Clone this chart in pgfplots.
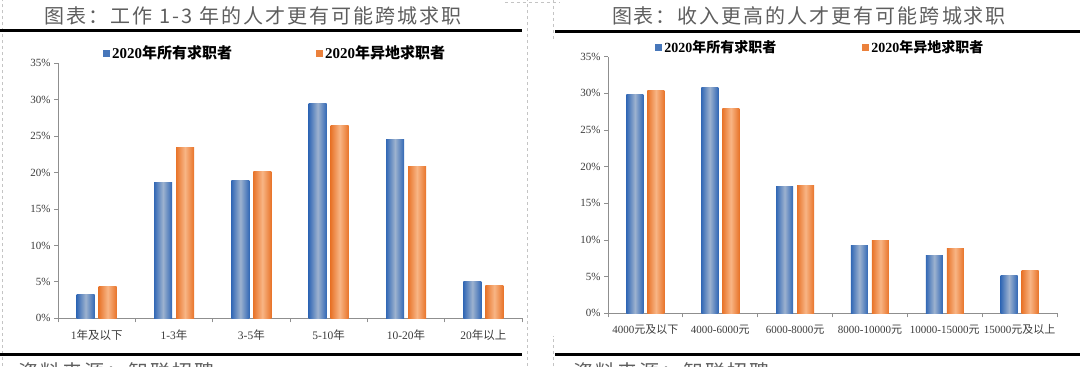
\documentclass[border=0pt]{standalone}
\usepackage{pgfplots}
\pgfplotsset{compat=1.18}
\usepackage{fontspec}
\setmainfont{Liberation Serif}
\newfontfamily\cjk{Noto Sans CJK SC}
\newfontfamily\cjkt[LetterSpace=10]{Noto Sans CJK SC}
\newcommand\C[1]{{\cjk #1}}
\definecolor{bdark}{HTML}{3268B5}
\definecolor{blight}{HTML}{9DB2CF}
\definecolor{odark}{HTML}{E8742A}
\definecolor{olight}{HTML}{F8B585}
\definecolor{axgray}{HTML}{8F8F8F}
\definecolor{txt}{HTML}{3A3A3A}
\definecolor{ttl}{HTML}{5E5E5E}
\definecolor{brd}{HTML}{C4C4C4}

\pgfplotsset{
 mybars/.style={
  scale only axis, ymin=0, ymax=35, xmin=-0.5, xmax=5.5,
  axis x line*=bottom, axis y line*=left,
  axis line style={draw=axgray, line width=0.9bp},
  tick style={draw=axgray, line width=0.8bp},
  xtick={0,...,5},
  major x tick style={draw=none},
  minor xtick={-0.5,0.5,...,5.5},
  minor tick length=4bp,
  tick align=outside,
  ytick={0,5,...,35}, major tick length=4bp,
  yticklabel={\pgfmathprintnumber{\tick}\%},
  /pgf/number format/assume math mode=true,
  tick label style={text=txt},
  y tick label style={font=\fontsize{11bp}{13bp}\selectfont},
  legend columns=2,
  legend style={draw=none, fill=none, anchor=west, inner sep=0pt, text=black},
  legend image code/.code={\draw[#1, draw=none] (0bp,-3.5bp) rectangle (7bp,3.5bp);},
  clip=false,
 },
 bluebar/.style={ybar, draw=none, left color=bdark, right color=bdark, middle color=blight},
 orangebar/.style={ybar, draw=none, left color=odark, right color=odark, middle color=olight},
}
% one bar pair per category, each bar its own path so that it gets its own shading
\newcommand\bars[3]{%
  \addplot[bl, forget plot] coordinates {(#1,#2)};
  \addplot[ol, forget plot] coordinates {(#1,#3)};}

\begin{document}
\begin{tikzpicture}[x=1bp,y=1bp]
\path[use as bounding box] (0,0) rectangle (1080,366);
\begin{scope}
\clip (0,0) rectangle (1080,366);
\draw[brd, dashed, line width=0.6bp] (2,0)--(2,366);
\draw[brd, dashed, line width=0.6bp] (527,0)--(527,366);
\draw[brd, dashed, line width=0.6bp] (553,366)--(553,325);
\draw[brd, dashed, line width=0.6bp] (553,0)--(553,30);
\draw[brd, dashed, line width=0.6bp] (505,364)--(560,364);
\draw[black, line width=3bp] (0,335)--(522,335);
\draw[black, line width=3bp] (555,334.5)--(1080,334.5);
\draw[black, line width=3bp] (0,12)--(522,12);
\draw[black, line width=3bp] (555,11.5)--(1080,11.5);
\node[text=ttl, font=\cjkt\fontsize{20bp}{22bp}\selectfont, inner sep=0] at (253,350) {图表：工作 1-3 年的人才更有可能跨城求职};
\node[text=ttl, font=\cjkt\fontsize{20bp}{22bp}\selectfont, inner sep=0] at (809,350) {图表：收入更高的人才更有可能跨城求职};
\node[anchor=north west, inner sep=0, text=ttl, font=\cjkt\fontsize{20bp}{22bp}\selectfont] at (18,4) {资料来源：智联招聘};
\node[anchor=north west, inner sep=0, text=ttl, font=\cjkt\fontsize{20bp}{22bp}\selectfont] at (573,4) {资料来源：智联招聘};
\end{scope}

\begin{axis}[mybars,
  at={(58bp,47.7bp)}, anchor=south west, width=464bp, height=255bp,
  bar width=18bp,
  bl/.style={bluebar, bar shift=-11bp},
  ol/.style={orangebar, bar shift=11bp},
  xticklabels={1\C{年及以下}, 1-3\C{年}, 3-5\C{年}, 5-10\C{年}, 10-20\C{年}, 20\C{年以上}},
  x tick label style={font=\fontsize{11.5bp}{13bp}\selectfont, yshift=-4bp},
  legend style={at={(0.097,1.040)}, font=\fontsize{15bp}{17bp}\selectfont\bfseries,
    /tikz/column 2/.style={column sep=82bp}},
]
\addlegendimage{fill=bdark!80!blight}
\addlegendimage{fill=odark!80!olight}
\bars{0}{3.2}{4.4}
\bars{1}{18.6}{23.5}
\bars{2}{18.9}{20.2}
\bars{3}{29.5}{26.5}
\bars{4}{24.5}{20.8}
\bars{5}{5.1}{4.5}
\legend{2020\C{年所有求职者}, 2020\C{年异地求职者}}
\end{axis}

\begin{axis}[mybars,
  at={(608bp,52.7bp)}, anchor=south west, width=449bp, height=256.6bp,
  bar width=17bp,
  bl/.style={bluebar, bar shift=-10.5bp},
  ol/.style={orangebar, bar shift=10.5bp},
  xticklabels={4000\C{元及以下}, 4000-6000\C{元}, 6000-8000\C{元}, 8000-10000\C{元}, 10000-15000\C{元}, 15000\C{元及以上}},
  x tick label style={font=\fontsize{11bp}{13bp}\selectfont, yshift=-4bp},
  legend style={at={(0.105,1.036)}, font=\fontsize{14bp}{16bp}\selectfont\bfseries,
    /tikz/column 2/.style={column sep=84bp}},
]
\addlegendimage{fill=bdark!80!blight}
\addlegendimage{fill=odark!80!olight}
\bars{0}{29.9}{30.4}
\bars{1}{30.8}{27.9}
\bars{2}{17.3}{17.4}
\bars{3}{9.3}{9.9}
\bars{4}{7.9}{8.9}
\bars{5}{5.2}{5.8}
\legend{2020\C{年所有求职者}, 2020\C{年异地求职者}}
\end{axis}
\end{tikzpicture}
\end{document}
